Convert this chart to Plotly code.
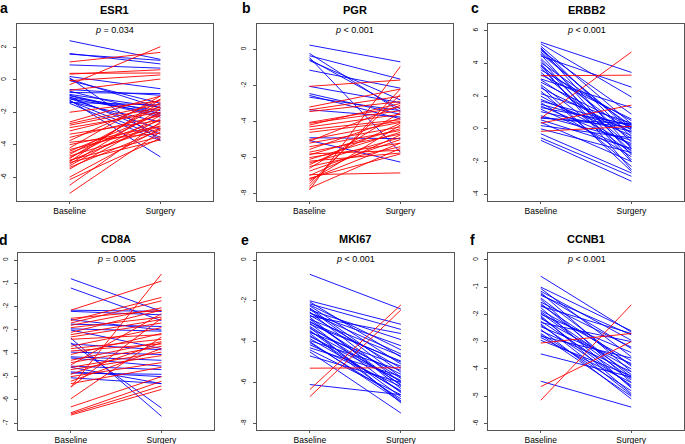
import plotly.graph_objects as go

W, H = 685, 444

# ---------------- data (baseline, surgery) per gene ----------------
genes = ["ESR1", "PGR", "ERBB2", "CD8A", "MKI67", "CCNB1"]
letters = ["a", "b", "c", "d", "e", "f"]
pvals = ["<i>p</i> = 0.034", "<i>p</i> < 0.001", "<i>p</i> < 0.001",
         "<i>p</i> = 0.005", "<i>p</i> < 0.001", "<i>p</i> < 0.001"]
xcats = ["Baseline", "Surgery"]

esr1_base = [2.41, 1.62, 1.58, 0.92, 0.20, 0.12, 0.05, -0.05, -0.60, -0.70, -0.78, -0.90, -0.98, -1.05,
             -1.10, -1.18, -1.25, -1.30, -1.35, -1.40, -1.15, -0.95, -1.45,
             1.10, 0.40, 0.35, -0.30, -0.05, -0.65, -2.00, -2.60, -2.70, -2.95, -3.15, -3.35, -3.55,
             -3.85, -4.00, -4.20, -4.30, -4.40, -4.50, -4.60, -4.70, -4.80, -4.85, -4.95, -5.00, -5.05,
             -5.10, -5.20, -5.30, -5.40, -5.50, -6.00, -6.15, -6.50, -7.00, -3.75, -2.80]
esr1_surg = [1.26, 0.98, 1.20, 0.72, -0.55, -3.72, -1.75, -1.45, -0.95, -2.10, -0.85, -1.70, -2.30, -3.35,
             -1.90, -2.05, -4.75, -3.55, -2.60, -1.55, -3.05, -2.20, -3.75,
             1.69, 0.42, 0.62, 2.04, 0.30, 0.05, -1.30, -1.00, -1.50, -2.00, -1.80, -2.50, -2.20,
             -3.30, -2.85, -1.00, -2.90, -2.10, -2.50, -1.60, -3.00, -2.00, -1.40, -3.50, -2.70, -1.20,
             -3.70, -1.80, -2.20, -3.10, -2.40, -3.00, -3.60, -2.60, -3.20, -1.20, -1.70]

pgr_base = [0.24, -0.22, -0.35, -0.45, -0.55, -0.62, -1.15, -2.05, -2.45, -2.55, -2.65, -4.90, -5.05, -3.35,
            -2.05, -3.20, -3.35, -3.45, -4.10, -4.20, -4.30, -4.45, -4.60, -5.00, -5.20, -5.40, -5.55,
            -5.70, -5.85, -6.00, -6.10, -6.30, -6.50, -6.60, -6.75, -6.95, -7.00, -7.15, -7.30, -7.45,
            -7.60, -7.80, -7.70, -5.80, -4.05, -6.40, -7.20, -5.10, -6.20]
pgr_surg = [-0.69, -3.45, -1.65, -5.70, -3.30, -2.80, -2.15, -2.95, -3.60, -3.85, -3.40, -4.95, -6.25, -3.75,
            -1.70, -2.20, -2.60, -2.90, -3.40, -3.00, -3.60, -3.90, -4.00, -4.05, -4.30, -4.50, -3.80,
            -4.70, -4.40, -5.20, -4.60, -4.90, -5.40, -3.50, -5.00, -6.85, -4.75, -5.80, -4.20, -2.50,
            -2.20, -0.95, -5.50, -5.60, -3.20, -4.10, -5.20, -3.10, -5.75]

erbb2_base = [5.30, 5.20, 5.05, 4.95, 4.90, 4.80, 4.70, 4.55, 4.45, 4.30, 4.20, 4.05, 3.95, 3.85, 3.75,
              3.60, 3.45, 3.05, 3.00, 2.85, 2.70, 2.50, 2.30, 2.15, 2.00, 1.80, 1.60, 1.50, 1.40, 1.30,
              1.20, 1.05, 0.80, 0.70, 0.65, 0.55, 0.40, 0.20, 0.00, -0.30, -0.55, -0.70, 3.30, 2.60,
              4.60, 3.90, 1.70,
              0.65, 3.25, 0.35, -0.15]
erbb2_surg = [3.45, 1.95, 0.30, -0.50, -1.20, 0.90, -0.10, -1.60, 2.55, -0.80, -1.90, 0.20, -1.40, -0.30,
              -2.00, 0.50, -1.10, 1.30, -0.60, 0.10, -1.50, -0.20, -2.30, 0.35, -1.00, -0.40, -1.70, 0.00,
              -0.90, 0.25, -1.30, -0.15, -0.70, 0.10, 0.30, -1.20, -2.00, -0.55, -1.45, -2.70, -2.90,
              -3.20, 0.60, -2.60, 0.05, -2.50, 0.15,
              4.70, 3.28, 1.45, 0.15]

cd8a_base = [-0.80, -1.20, -2.15, -2.20, -2.55, -2.75, -3.00, -3.35, -3.55, -3.60, -4.15, -4.55, -4.60,
             -4.85, -4.80, -2.95, -3.95, -4.20, -5.05,
             -5.45, -2.15, -2.60, -2.70, -2.80, -2.90, -3.10, -3.30, -3.40, -3.70, -3.80, -3.90, -4.05,
             -4.30, -4.40, -4.50, -4.70, -4.90, -5.00, -5.20, -5.30, -5.45, -5.95, -6.30, -6.55, -6.60,
             -6.65, -2.50, -3.20, -4.60]
cd8a_surg = [-2.20, -2.60, -2.20, -2.35, -3.00, -2.85, -3.80, -6.70, -6.35, -3.85, -4.30, -4.70, -5.30,
             -4.90, -5.00, -3.05, -4.05, -4.55, -5.30,
             -0.60, -0.90, -1.60, -1.75, -2.05, -2.45, -2.15, -2.70, -3.20, -2.90, -3.40, -3.60, -3.15,
             -3.50, -3.70, -2.30, -4.10, -3.55, -4.40, -3.80, -4.60, -2.50, -3.30, -5.00, -5.20, -5.40,
             -5.55, -2.15, -2.55, -3.95]

mki67_base = [-0.70, -2.00, -2.05, -2.15, -2.25, -2.35, -2.45, -2.55, -2.60, -2.70, -2.80, -2.90, -3.00,
              -3.10, -3.15, -3.25, -3.35, -3.45, -3.55, -3.60, -3.75, -3.85, -3.95, -4.05, -4.15, -4.30,
              -4.40, -4.50, -4.70, -6.10, -2.20, -2.75, -3.05, -3.30, -3.70, -2.40, -2.90, -3.50, -4.00,
              -2.60,
              -6.35, -6.70, -5.30]
mki67_surg = [-2.40, -3.15, -4.75, -3.40, -5.10, -5.50, -3.90, -6.00, -4.20, -5.30, -6.30, -4.70, -5.80,
              -6.50, -4.95, -6.10, -5.60, -6.70, -5.20, -6.90, -5.90, -6.40, -5.40, -6.80, -6.20, -5.70,
              -6.60, -7.50, -6.00, -6.60, -4.40, -3.60, -5.00, -7.00, -6.45, -5.75, -6.15, -5.95, -6.95,
              -4.60,
              -2.20, -2.45, -5.28]

ccnb1_base = [-0.60, -1.00, -1.05, -1.15, -1.20, -1.30, -1.40, -1.45, -1.55, -1.60, -1.70, -1.75, -1.85,
              -1.90, -2.00, -2.05, -2.15, -2.25, -2.30, -2.40, -2.45, -2.55, -2.60, -2.70, -2.80, -2.85,
              -2.95, -3.45, -4.45, -1.25, -1.65, -2.10, -2.35, -1.95, -2.75,
              -5.15, -4.65, -3.05]
ccnb1_surg = [-2.65, -2.60, -3.55, -2.95, -4.10, -2.75, -3.90, -4.50, -3.20, -4.30, -2.70, -4.70, -3.70,
              -4.20, -3.40, -4.90, -4.00, -4.40, -3.00, -4.60, -3.80, -5.10, -4.10, -4.80, -3.60, -4.50,
              -4.25, -4.30, -5.40, -3.25, -3.85, -4.65, -4.95, -4.35, -5.00,
              -1.65, -3.00, -2.70]

series = [(esr1_base, esr1_surg), (pgr_base, pgr_surg), (erbb2_base, erbb2_surg),
          (cd8a_base, cd8a_surg), (mki67_base, mki67_surg), (ccnb1_base, ccnb1_surg)]

ytickvals = [[2, 0, -2, -4, -6], [0, -2, -4, -6, -8], [6, 4, 2, 0, -2, -4],
             [0, -1, -2, -3, -4, -5, -6, -7], [0, -2, -4, -6, -8], [0, -1, -2, -3, -4, -5, -6]]
yranges = [[-7.47, 3.44], [-8.41, 1.41], [-4.41, 6.41], [-7.29, 0.29], [-8.33, 0.33], [-6.24, 0.24]]

# ---------------- layout geometry (pixels) ----------------
boxes = [(17, 213, 24, 201), (256.7, 453, 24, 201), (488.3, 684, 24, 201),
         (18.3, 214, 253.3, 430), (257, 453.7, 253.3, 430), (488.3, 683.7, 253.3, 430)]
letter_pos = [(4, 8), (246, 8), (475, 8), (4, 240), (245, 240), (473, 240)]

FONT = "Liberation Sans, Arial, Helvetica, sans-serif"
fig = go.Figure()
layout = dict(width=W, height=H, margin=dict(l=0, r=0, t=0, b=0, autoexpand=False),
              paper_bgcolor="white", plot_bgcolor="white", showlegend=False,
              font=dict(family=FONT, color="black"))
annotations = []

for i, ((b, s), (x0, x1, y0, y1)) in enumerate(zip(series, boxes)):
    n = i + 1
    xa = "x" if n == 1 else f"x{n}"
    ya = "y" if n == 1 else f"y{n}"
    for col, pick in (("#0000FF", lambda u, v: v <= u), ("#FF0000", lambda u, v: v > u)):
        xs, ys = [], []
        for u, v in zip(b, s):
            if pick(u, v):
                xs += [1, 2, None]
                ys += [u, v, None]
        fig.add_trace(go.Scatter(x=xs, y=ys, mode="lines", xaxis=xa, yaxis=ya,
                                 line=dict(color=col, width=0.9), hoverinfo="skip"))
    axkw = dict(showline=True, linecolor="#555", linewidth=1, mirror=True, showgrid=False,
                zeroline=False, ticks="outside", tickcolor="#555")
    layout[f"xaxis{'' if n == 1 else n}"] = dict(
        domain=[x0 / W, x1 / W], anchor=ya, range=[0.42, 2.58], ticklen=2,
        tickvals=[1, 2], ticktext=xcats, tickfont=dict(size=8.5, family=FONT), **axkw)
    layout[f"yaxis{'' if n == 1 else n}"] = dict(
        domain=[1 - y1 / H, 1 - y0 / H], anchor=xa, range=yranges[i], ticklen=3,
        tickvals=ytickvals[i], ticktext=[str(t) if t >= 0 else "-" + str(-t) for t in ytickvals[i]],
        tickangle=-90, ticklabelstandoff=4, tickfont=dict(size=6.5, family=FONT), **axkw)
    cx = (x0 + x1) / 2
    annotations.append(dict(x=cx / W, y=1 - (y0 - 14) / H, xref="paper", yref="paper",
                            text=f"<b>{genes[i]}</b>", showarrow=False,
                            font=dict(size=11, family=FONT), xanchor="center", yanchor="middle"))
    annotations.append(dict(x=cx / W, y=1 - (y0 + 6) / H, xref="paper", yref="paper",
                            text=pvals[i], showarrow=False,
                            font=dict(size=9, family=FONT), xanchor="center", yanchor="middle"))
    lx, ly = letter_pos[i]
    annotations.append(dict(x=lx / W, y=1 - ly / H, xref="paper", yref="paper",
                            text=f"<b>{letters[i]}</b>", showarrow=False,
                            font=dict(size=14, family=FONT), xanchor="center", yanchor="middle"))

layout["annotations"] = annotations
fig.update_layout(**layout)
fig.write_html("out.html", config={"displayModeBar": False},
               post_script="document.body.style.margin='0';")
